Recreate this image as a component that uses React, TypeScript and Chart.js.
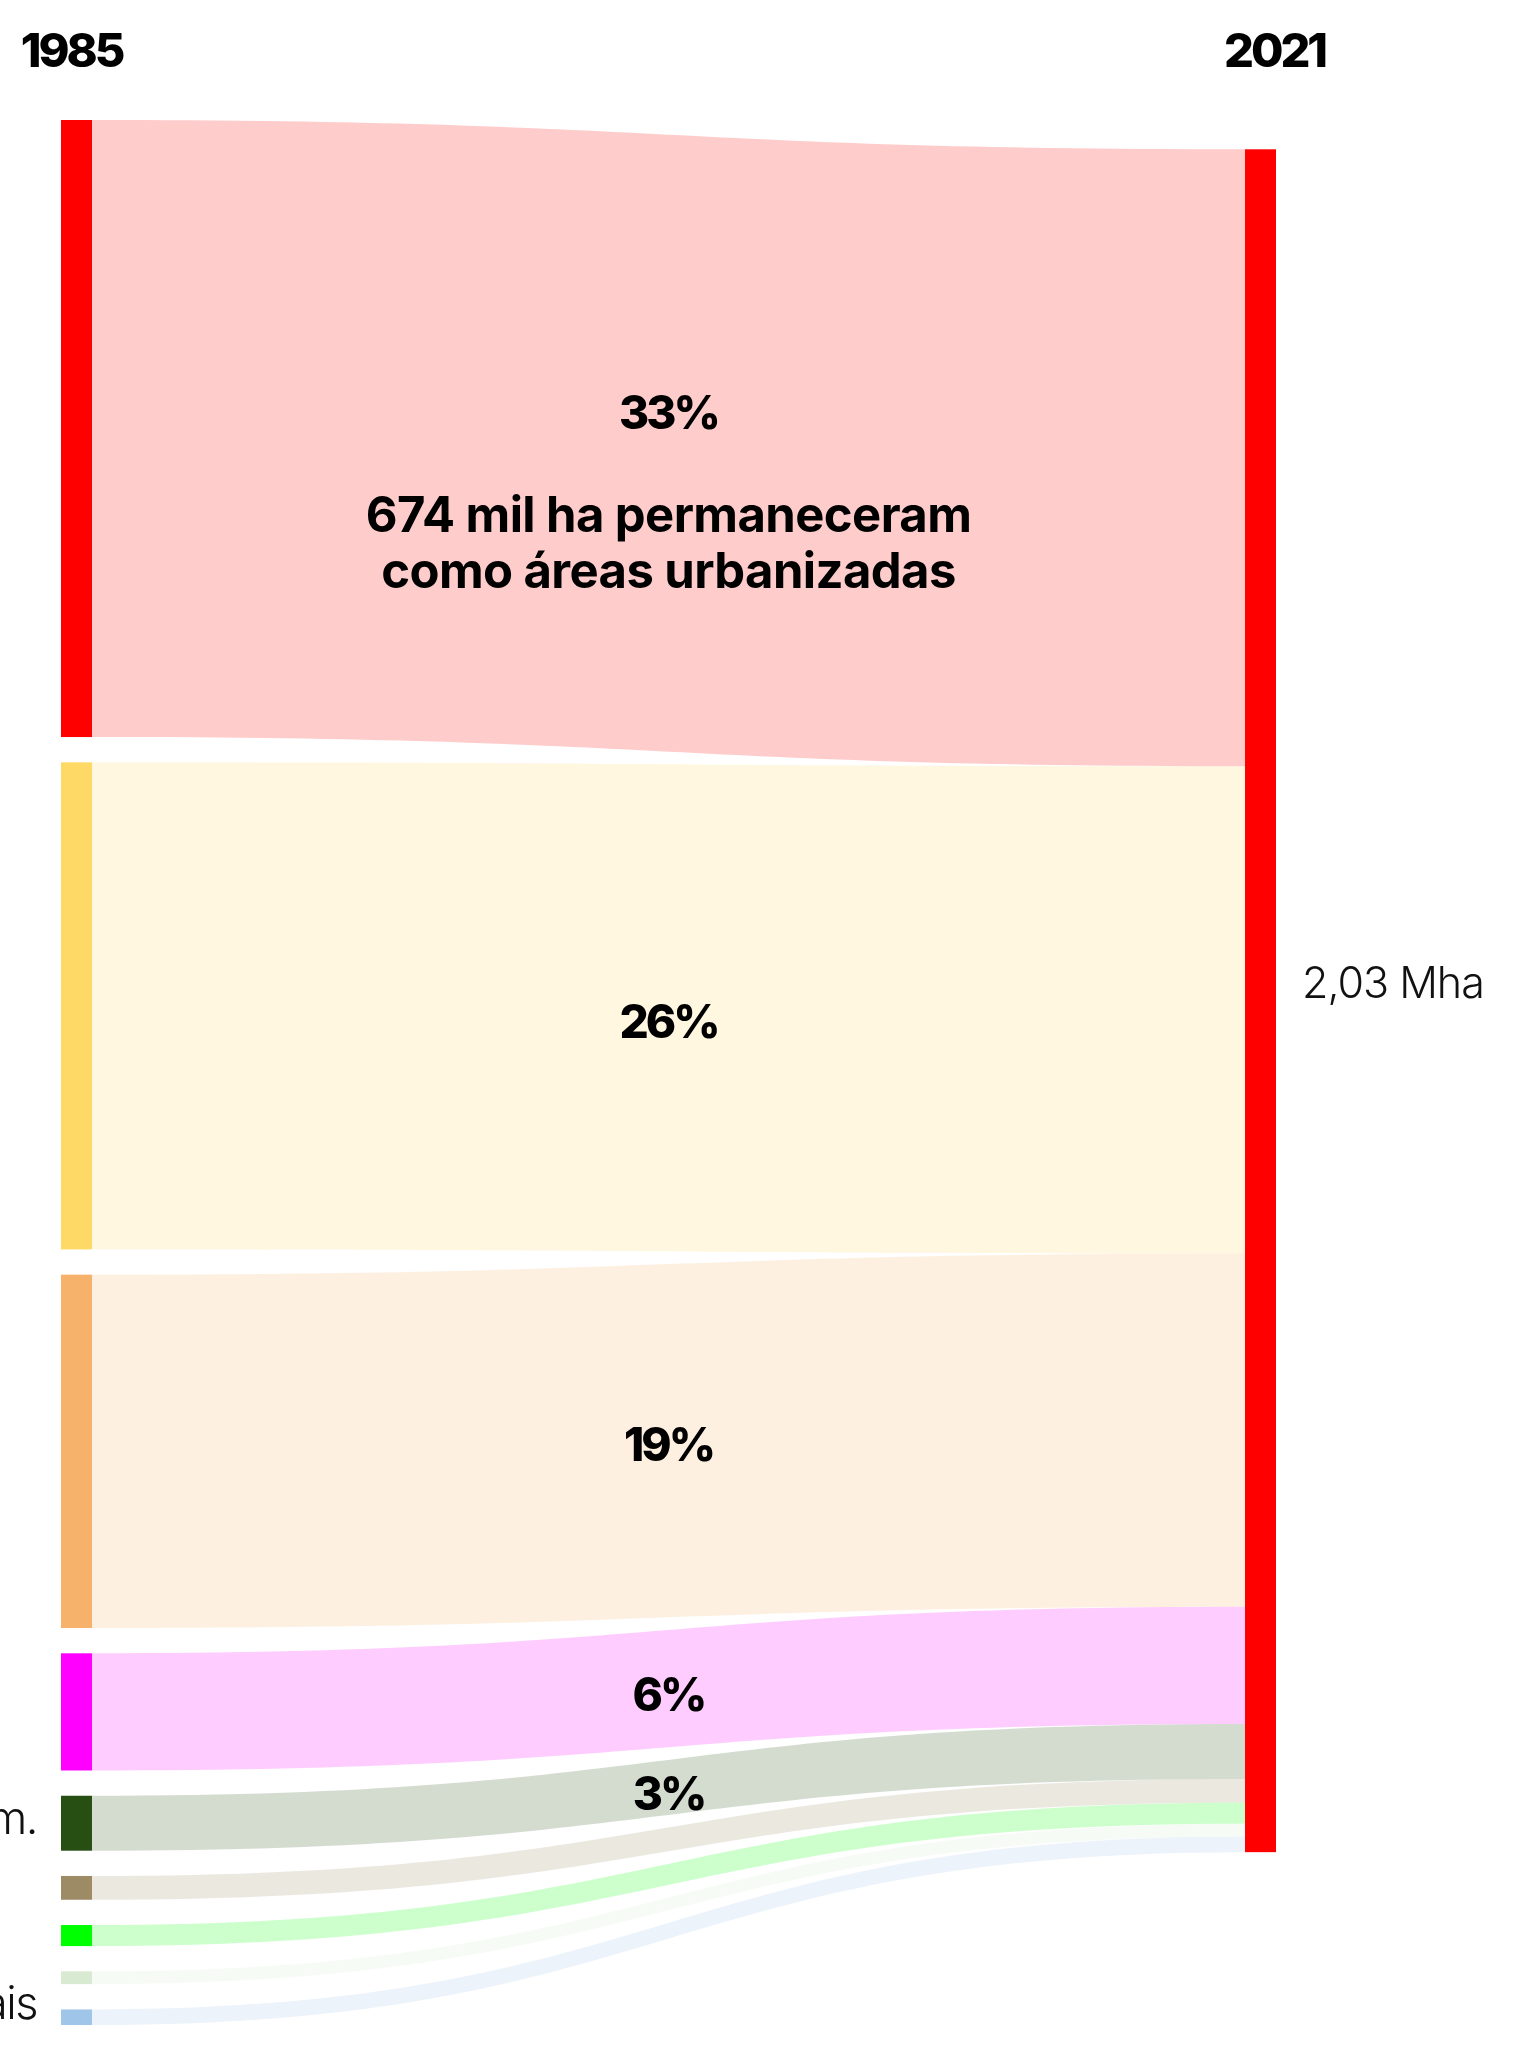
import React, { useEffect, useRef } from 'react';
import { Chart, registerables } from 'chart.js';

Chart.register(...registerables);

// ---------- DATA ----------
const years = ['1985', '2021'];
const classes1985 = [
  'Área urbanizada',
  'Pastagem',
  'Mosaico de usos',
  'Agricultura',
  'Formação florestal',
  'Silvicultura',
  'Formação campestre',
  'Outras formações',
  'Outras áreas naturais',
];
// visible (clipped) node labels of the 1985 column
const leftNodeLabels = ['', '', '', '', 'Outras Form.', '', '', '', 'Outras Áreas Naturais'];
// mil ha of each 1985 class that is urbanized area in 2021
const flowValues = [674, 532, 386, 128, 60, 26, 23, 14, 17];
const nodeColors = ['#ff0000', '#ffd966', '#f6b26b', '#ff00ff', '#274e13', '#9c8b64', '#00ff00', '#d9ead3', '#9fc5e8'];
const target2021 = 'Área urbanizada';
const targetColor = '#ff0000';
const targetLabel = '2,03 Mha';
const percentLabels = ['33%', '26%', '19%', '6%', '3%', '', '', '', ''];
const highlightLines = ['674 mil ha permaneceram', 'como áreas urbanizadas'];

// ---------- LAYOUT / STYLE ----------
const W = 1513;
const H = 2049;
const NODE_GAP = 27.6; // in value units (mil ha)
const RIGHT_OFFSET = 32; // value units
const NODE_W_FRAC = 0.0255;
const LINK_ALPHA = 0.2;
const percentOffsets = [-31, 13, 3, 5, 6, 0, 0, 0, 0];
const BOLD = '"Inter", "Open Sans", sans-serif';
const LIGHT = '"Inter", "Open Sans", sans-serif';

function hexToRgba(hex: string, a: number) {
  const n = parseInt(hex.slice(1), 16);
  return `rgba(${(n >> 16) & 255},${(n >> 8) & 255},${n & 255},${a})`;
}

const total = flowValues.reduce((s, v) => s + v, 0);
const yMax = total + NODE_GAP * (flowValues.length - 1);

const sankeyPlugin = {
  id: 'sankeyDraw',
  afterDraw(chart: any) {
    const ctx: CanvasRenderingContext2D = chart.ctx;
    const xs = chart.scales.x;
    const ys = chart.scales.y;
    const area = chart.chartArea;
    const xL0 = xs.getPixelForValue(0);
    const xL1 = xs.getPixelForValue(NODE_W_FRAC);
    const xR1 = xs.getPixelForValue(1);
    const xR0 = xs.getPixelForValue(1 - NODE_W_FRAC);
    const xm = (xL1 + xR0) / 2;

    ctx.save();
    // links
    let cum = 0;
    let rcum = RIGHT_OFFSET;
    const geo: any[] = [];
    flowValues.forEach((v, i) => {
      const ly0 = ys.getPixelForValue(cum);
      const ly1 = ys.getPixelForValue(cum + v);
      const ry0 = ys.getPixelForValue(rcum);
      const ry1 = ys.getPixelForValue(rcum + v);
      geo.push({ ly0, ly1, ry0, ry1 });
      ctx.beginPath();
      ctx.moveTo(xL1, ly0);
      ctx.bezierCurveTo(xm, ly0, xm, ry0, xR0, ry0);
      ctx.lineTo(xR0, ry1);
      ctx.bezierCurveTo(xm, ry1, xm, ly1, xL1, ly1);
      ctx.closePath();
      ctx.fillStyle = hexToRgba(nodeColors[i], LINK_ALPHA);
      ctx.fill();
      cum += v + NODE_GAP;
      rcum += v;
    });

    // left nodes
    geo.forEach((g, i) => {
      ctx.fillStyle = nodeColors[i];
      ctx.fillRect(xL0, g.ly0, xL1 - xL0, g.ly1 - g.ly0);
    });
    // right node
    const rTop = ys.getPixelForValue(RIGHT_OFFSET);
    const rBot = ys.getPixelForValue(RIGHT_OFFSET + total);
    ctx.fillStyle = targetColor;
    ctx.fillRect(xR0, rTop, xR1 - xR0, rBot - rTop);

    // left node labels (clipped by page edge)
    ctx.fillStyle = '#111';
    ctx.font = `300 45px ${LIGHT}`;
    (ctx as any).letterSpacing = '-1.5px';
    ctx.textAlign = 'right';
    ctx.textBaseline = 'alphabetic';
    geo.forEach((g, i) => {
      const t = leftNodeLabels[i];
      if (!t) return;
      const c = (g.ly0 + g.ly1) / 2;
      ctx.fillText(t, xL0 - 24, Math.min(c + 11, area.bottom - 6));
    });

    // right node label
    ctx.textAlign = 'left';
    ctx.font = `300 43px ${LIGHT}`;
    (ctx as any).letterSpacing = '-1px';
    ctx.fillText(targetLabel, xR1 + 26, (rTop + rBot) / 2 - 3);

    // percentage labels
    ctx.fillStyle = '#000';
    ctx.textAlign = 'center';
    geo.forEach((g, i) => {
      const t = percentLabels[i];
      if (!t) return;
      const mid = (g.ly0 + g.ly1 + g.ry0 + g.ry1) / 4 + percentOffsets[i];
      ctx.font = `800 46px ${BOLD}`;
      (ctx as any).letterSpacing = '-3px';
      ctx.fillText(t, xm, mid + 17);
      if (i === 0) {
        ctx.font = `700 49px ${BOLD}`;
        (ctx as any).letterSpacing = '-0.6px';
        highlightLines.forEach((line, k) => {
          ctx.fillText(line, xm, mid + 17 + 103 + k * 56);
        });
      }
    });

    // year headers
    ctx.font = `800 47px ${BOLD}`;
    (ctx as any).letterSpacing = '-3px';
    ctx.fillText(years[0], (xL0 + xL1) / 2 - 5, 67);
    ctx.fillText(years[1], (xR0 + xR1) / 2 + 14, 67);
    ctx.restore();
  },
};

export default function App() {
  const ref = useRef<HTMLCanvasElement | null>(null);
  useEffect(() => {
    document.body.style.margin = '0';
    const canvas = ref.current!;
    const chart = new Chart(canvas, {
      type: 'scatter',
      data: { datasets: [{ label: target2021, data: [] }] },
      options: {
        animation: false,
        responsive: false,
        devicePixelRatio: 1,
        layout: { padding: { left: 61, right: W - 1276, top: 120, bottom: H - 2025 } },
        scales: {
          x: { type: 'linear', min: 0, max: 1, display: false },
          y: { type: 'linear', min: 0, max: yMax, reverse: true, display: false },
        },
        plugins: { legend: { display: false }, tooltip: { enabled: false } },
      },
      plugins: [sankeyPlugin],
    });
    return () => chart.destroy();
  }, []);
  return (
    <div style={{ position: 'fixed', left: 0, top: 0, width: W, height: H, background: '#fff' }}>
      <canvas ref={ref} width={W} height={H} style={{ display: 'block', width: W, height: H }} />
    </div>
  );
}
